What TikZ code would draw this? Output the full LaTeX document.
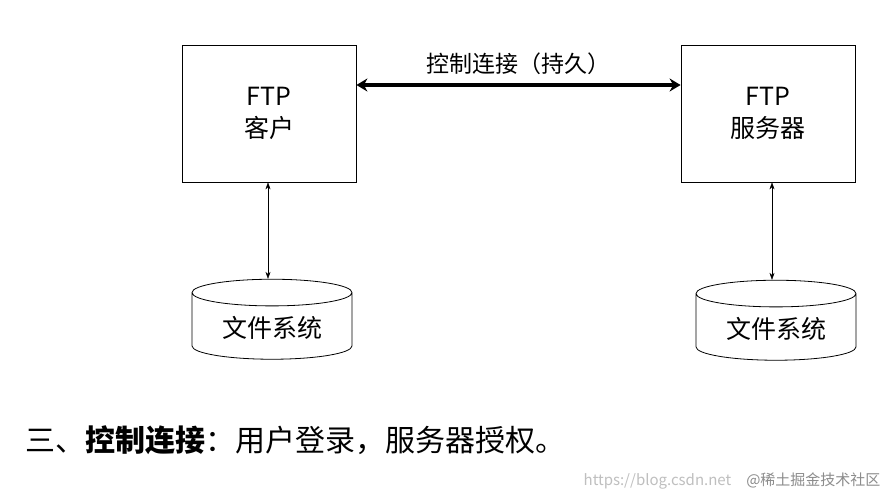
\documentclass[tikz,border=0pt]{standalone}
\usepackage{fontspec}
\setmainfont{Noto Sans CJK SC}
\usetikzlibrary{shapes.geometric}
\usetikzlibrary{arrows.meta,arrows}

\begin{document}
\begin{tikzpicture}
[x=1pt,y=-1pt,
block/.style ={rectangle, draw, thick, fill=white,
minimum width=174pt, minimum height=137pt, align=center,
font=\fontsize{25}{32}\selectfont},
store/.style ={cylinder, draw, thick, shape border rotate=90, aspect=0.25,
minimum width=160pt, minimum height=80pt,
font=\fontsize{25}{30}\selectfont},
link/.style ={{Stealth[length=7pt,width=5pt]}-{Stealth[length=7pt,width=5pt]}},
thicklink/.style ={line width=4pt, {Stealth[length=11pt,width=13pt]}-{Stealth[length=11pt,width=13pt]}}]
\useasboundingbox [fill=white] (0,0) rectangle (886,498);
% boxes
\node [block] (client) at (269,113.5) {FTP\\客户};
\node [block] (server) at (768,113.5) {FTP\\服务器};
% file systems
\node [store] (fsclient) at (272,328) {文件系统};
\node [store] (fsserver) at (776,329) {文件系统};
% connectors
\draw [thicklink] (client.east |- 0,85) -- node [above=5pt, font=\fontsize{23}{26}\selectfont] {控制连接（持久）} (server.west |- 0,85);
\draw [link] (client.south -| 268,0) -- (fsclient.north -| 268,0);
\draw [link] (server.south -| 772,0) -- (fsserver.north -| 772,0);
% caption
\node [anchor=west, font=\fontsize{30}{36}\selectfont] (caption) at (22,440)
  {三、\textbf{控制连接}：用户登录，服务器授权。};
\node [anchor=east, text=black!25, font=\fontsize{15}{18}\selectfont] (mark) at (884,481)
  {https://blog.csdn.net\quad\textcolor{black!45}{@稀土掘金技术社区}};
\end{tikzpicture}
\end{document}
